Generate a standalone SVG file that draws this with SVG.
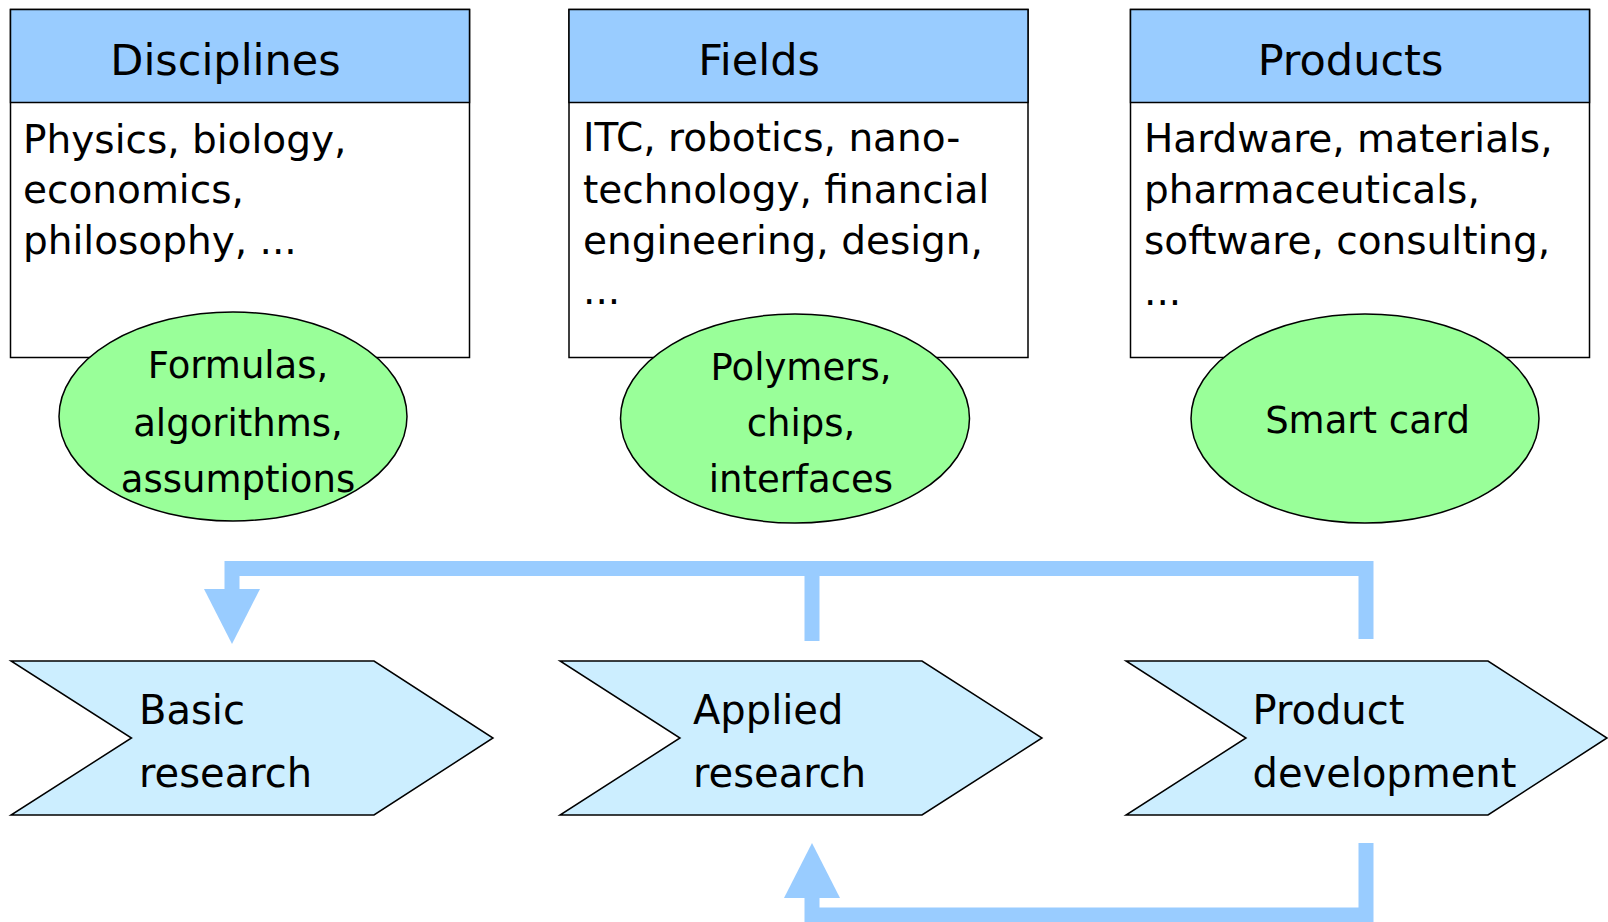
<svg xmlns="http://www.w3.org/2000/svg" width="1608" height="922" viewBox="0 0 1608 922">
<style>
  .box{fill:#ffffff;stroke:#000;stroke-width:1.5}
  .hdr{fill:#99ccff;stroke:#000;stroke-width:1.5}
  .ell{fill:#99ff99;stroke:#000;stroke-width:1.5}
  .chev{fill:#cceeff;stroke:#000;stroke-width:1.5;stroke-linejoin:miter}
  .conn{fill:none;stroke:#99ccff;stroke-width:15;stroke-linecap:butt;stroke-linejoin:miter}
  text{font-family:"DejaVu Sans","Liberation Sans",sans-serif;fill:#000}
  .h{font-size:43px;text-anchor:middle}
  .b{font-size:39px}
  .e{font-size:37px;text-anchor:middle}
  .c{font-size:40px}
</style>
<defs>
  <marker id="ah" viewBox="0 0 55 56" refX="0" refY="28" markerWidth="55" markerHeight="56" markerUnits="userSpaceOnUse" orient="auto">
    <path d="M0,0 L55,28 L0,56 z" fill="#99ccff"/>
  </marker>
</defs>

<g id="disciplines">
  <rect class="box" x="10.5" y="9.5" width="459" height="348"/>
  <rect class="hdr" x="10.5" y="9.5" width="459" height="93"/>
  <text class="h" x="225.5" y="74.5">Disciplines</text>
  <text class="b" x="23" y="152.5">Physics, biology,</text>
  <text class="b" x="23" y="203">economics,</text>
  <text class="b" x="23" y="254">philosophy, ...</text>
</g>
<g id="fields">
  <rect class="box" x="569" y="9.5" width="459" height="348"/>
  <rect class="hdr" x="569" y="9.5" width="459" height="93"/>
  <text class="h" x="759" y="74.5">Fields</text>
  <text class="b" x="583" y="151">ITC, robotics, nano-</text>
  <text class="b" x="583" y="202.5">technology, financial</text>
  <text class="b" x="583" y="253.5">engineering, design,</text>
  <text class="b" x="583" y="303.5">...</text>
</g>
<g id="products">
  <rect class="box" x="1130.5" y="9.5" width="459" height="348"/>
  <rect class="hdr" x="1130.5" y="9.5" width="459" height="93"/>
  <text class="h" x="1350.5" y="74.5">Products</text>
  <text class="b" x="1144" y="152">Hardware, materials,</text>
  <text class="b" x="1144" y="203">pharmaceuticals,</text>
  <text class="b" x="1144" y="254">software, consulting,</text>
  <text class="b" x="1144" y="305">...</text>
</g>

<g id="formulas">
  <ellipse class="ell" cx="233" cy="416.5" rx="174" ry="104.5"/>
  <text class="e" x="238" y="378">Formulas,</text>
  <text class="e" x="238" y="435.5">algorithms,</text>
  <text class="e" x="238" y="491.5">assumptions</text>
</g>
<g id="polymers">
  <ellipse class="ell" cx="795" cy="418.5" rx="174.5" ry="104.5"/>
  <text class="e" x="801" y="379.5">Polymers,</text>
  <text class="e" x="801" y="435.5">chips,</text>
  <text class="e" x="801" y="491.5">interfaces</text>
</g>
<g id="smartcard">
  <ellipse class="ell" cx="1365" cy="418.5" rx="174" ry="104.5"/>
  <text class="e" x="1367.5" y="433">Smart card</text>
</g>

<g id="basic">
  <polygon class="chev" points="11,661 374,661 493,738 374,815 11,815 131.5,738"/>
  <text class="c" x="139" y="724">Basic</text>
  <text class="c" x="139" y="786.5">research</text>
</g>
<g id="applied">
  <polygon class="chev" points="560,661 922,661 1042,738 922,815 560,815 680,738"/>
  <text class="c" x="693" y="724">Applied</text>
  <text class="c" x="693" y="786.5">research</text>
</g>
<g id="productdev">
  <polygon class="chev" points="1126,661 1488,661 1607,738 1488,815 1126,815 1246,738"/>
  <text class="c" x="1252.5" y="724">Product</text>
  <text class="c" x="1252.5" y="786.5">development</text>
</g>

<g id="connectors">
  <path class="conn" d="M1366,639 V568.5 H232 V589" marker-end="url(#ah)"/>
  <path class="conn" d="M812,568.5 V641"/>
  <path class="conn" d="M1366,843 V915 H812 V898" marker-end="url(#ah)"/>
</g>
</svg>
